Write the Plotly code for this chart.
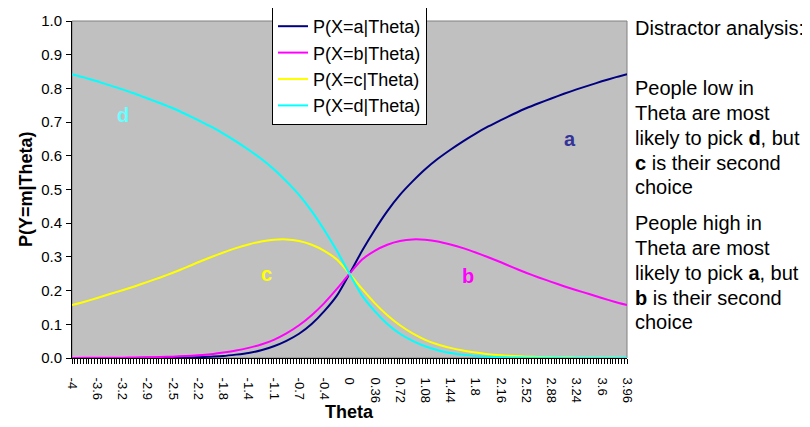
import plotly.graph_objects as go

# ---------------- data ----------------
theta = [-3.96, -3.78, -3.60, -3.42, -3.24, -3.06, -2.88, -2.70, -2.52, -2.34,
         -2.16, -1.98, -1.80, -1.62, -1.44, -1.26, -1.08, -0.90, -0.72, -0.54,
         -0.36, -0.18, 0.00, 0.18, 0.36, 0.54, 0.72, 0.90, 1.08, 1.26,
         1.44, 1.62, 1.80, 1.98, 2.16, 2.34, 2.52, 2.70, 2.88, 3.06,
         3.24, 3.42, 3.60, 3.78, 3.96]

p_a = [0.0, 0.0001, 0.0001, 0.0001, 0.0002, 0.0003, 0.0005, 0.0007, 0.001, 0.0015,
       0.002, 0.004, 0.006, 0.010, 0.015, 0.023, 0.035, 0.051, 0.072, 0.101,
       0.139, 0.185, 0.25, 0.318, 0.380, 0.436, 0.484, 0.524, 0.560, 0.591,
       0.618, 0.643, 0.666, 0.687, 0.706, 0.724, 0.741, 0.756, 0.770, 0.784,
       0.797, 0.809, 0.821, 0.832, 0.842]

p_b = [0.0003, 0.0004, 0.0005, 0.0008, 0.001, 0.0015, 0.002, 0.003, 0.004, 0.006,
       0.008, 0.011, 0.016, 0.022, 0.030, 0.040, 0.054, 0.073, 0.097, 0.127,
       0.163, 0.205, 0.25, 0.292, 0.318, 0.336, 0.347, 0.352, 0.351, 0.346,
       0.337, 0.326, 0.313, 0.299, 0.284, 0.268, 0.253, 0.239, 0.226, 0.213,
       0.201, 0.190, 0.178, 0.167, 0.157]

p_c = [0.157, 0.167, 0.178, 0.190, 0.201, 0.213, 0.226, 0.239, 0.253, 0.268,
       0.284, 0.299, 0.313, 0.326, 0.337, 0.346, 0.351, 0.352, 0.347, 0.336,
       0.318, 0.292, 0.25, 0.205, 0.163, 0.127, 0.097, 0.073, 0.054, 0.040,
       0.030, 0.022, 0.016, 0.011, 0.008, 0.006, 0.004, 0.003, 0.002, 0.0015,
       0.001, 0.0008, 0.0005, 0.0004, 0.0003]

p_d = [0.842, 0.832, 0.821, 0.809, 0.797, 0.784, 0.770, 0.756, 0.741, 0.724,
       0.706, 0.687, 0.666, 0.643, 0.618, 0.591, 0.560, 0.524, 0.484, 0.436,
       0.380, 0.318, 0.25, 0.185, 0.139, 0.101, 0.072, 0.051, 0.035, 0.023,
       0.015, 0.010, 0.006, 0.004, 0.002, 0.0015, 0.001, 0.0007, 0.0005, 0.0003,
       0.0002, 0.0001, 0.0001, 0.0001, 0.0]

series_names = ["P(X=a|Theta)", "P(X=b|Theta)", "P(X=c|Theta)", "P(X=d|Theta)"]
series_colors = ["#000080", "#FF00FF", "#FFFF00", "#00FFFF"]

tick_vals = [-3.96, -3.60, -3.24, -2.88, -2.52, -2.16, -1.80, -1.44, -1.08, -0.72,
             -0.36, 0.0, 0.36, 0.72, 1.08, 1.44, 1.80, 2.16, 2.52, 2.88,
             3.24, 3.60, 3.96]
tick_text = ["-4", "-3.6", "-3.2", "-2.9", "-2.5", "-2.2", "-1.8", "-1.4", "-1.1", "-0.7",
             "-0.4", "0", "0.36", "0.72", "1.08", "1.44", "1.8", "2.16", "2.52", "2.88",
             "3.24", "3.6", "3.96"]

side_lines = ["Distractor analysis:",
              "People low in", "Theta are most", "likely to pick <b>d</b>, but",
              "<b>c</b> is their second", "choice",
              "People high in", "Theta are most", "likely to pick <b>a</b>, but",
              "<b>b</b> is their second", "choice"]

# ---------------- figure ----------------
FONT = "Arial, Liberation Sans, sans-serif"
OFF = 8                      # page body margin of the browser
W, H = 810 - OFF, 427 - OFF  # figure size
PL, PR, PT, PB = 72, 627, 21, 358   # plot area in page pixels
L, T = PL - OFF, PT - OFF
R, B = 810 - PR, 427 - PB

def px_x(px):
    return (px - PL) / (PR - PL)

def px_y(py):
    return (PB - py) / (PB - PT)

fig = go.Figure()
for name, vals, col in zip(series_names, [p_a, p_b, p_c, p_d], series_colors):
    fig.add_trace(go.Scatter(x=theta, y=vals, mode="lines", name=name,
                             line=dict(color=col, width=2, shape="spline", smoothing=0.6)))

fig.update_layout(
    width=W, height=H,
    margin=dict(l=L, r=R, t=T, b=B, pad=0, autoexpand=False),
    paper_bgcolor="white",
    plot_bgcolor="#C0C0C0",
    font=dict(family=FONT, color="black"),
    showlegend=True,
    legend=dict(
        x=px_x(272), y=px_y(7),
        xanchor="left", yanchor="top",
        bgcolor="white", bordercolor="black", borderwidth=1,
        font=dict(family=FONT, size=18, color="black"),
        itemwidth=30, tracegroupgap=0,
    ),
)

fig.update_xaxes(
    range=[-3.96, 3.96],
    tickmode="array", tickvals=tick_vals, ticktext=tick_text,
    tickangle=90,
    tickfont=dict(family=FONT, size=13, color="black"),
    ticks="outside", ticklen=5, tickcolor="black", tickwidth=1,
    minor=dict(dtick=0.04, tick0=-3.96, ticks="outside", ticklen=5,
               tickcolor="black", tickwidth=1, showgrid=False),
    showline=True, linecolor="black", linewidth=1,
    showgrid=False, zeroline=False,
    ticklabelstandoff=11,
)
fig.update_yaxes(
    range=[0, 1], dtick=0.1, tick0=0, tickformat=".1f",
    tickfont=dict(family=FONT, size=15, color="black"),
    ticks="outside", ticklen=5, tickcolor="black", tickwidth=1,
    showline=True, linecolor="black", linewidth=1,
    showgrid=False, zeroline=False,
    ticklabelstandoff=1,
)

# plot area border (top/right)
fig.add_shape(type="rect", xref="paper", yref="paper", x0=0, x1=1, y0=0, y1=1,
              line=dict(color="#808080", width=1), layer="below")

# axis titles
fig.add_annotation(text="<b>P(Y=m|Theta)</b>", textangle=-90, xref="paper", yref="paper",
                   x=px_x(26), y=px_y(189), xanchor="center", yanchor="middle",
                   showarrow=False, font=dict(family=FONT, size=18, color="black"))
fig.add_annotation(text="<b>Theta</b>", xref="paper", yref="paper",
                   x=px_x(349), y=px_y(412), xanchor="center", yanchor="middle",
                   showarrow=False, font=dict(family=FONT, size=18, color="black"))

# curve letters
for txt, xv, yv, col in [("d", -3.23, 0.72, "#66FFFF"), ("c", -1.18, 0.25, "#FFFF00"),
                         ("a", 3.14, 0.651, "#333399"), ("b", 1.695, 0.243, "#FF00FF")]:
    fig.add_annotation(text="<b>%s</b>" % txt, x=xv, y=yv, xref="x", yref="y",
                       xanchor="center", yanchor="middle",
                       showarrow=False, font=dict(family=FONT, size=20, color=col))

# side text, one annotation per line
side_y = [28, 88, 113, 138, 163, 187, 223, 248, 273, 298, 322]
for txt, py in zip(side_lines, side_y):
    fig.add_annotation(text=txt, xref="paper", yref="paper", x=px_x(633), y=px_y(py),
                       xanchor="left", yanchor="middle", align="left", showarrow=False,
                       font=dict(family=FONT, size=20, color="black"))

fig.write_html("out.html")
